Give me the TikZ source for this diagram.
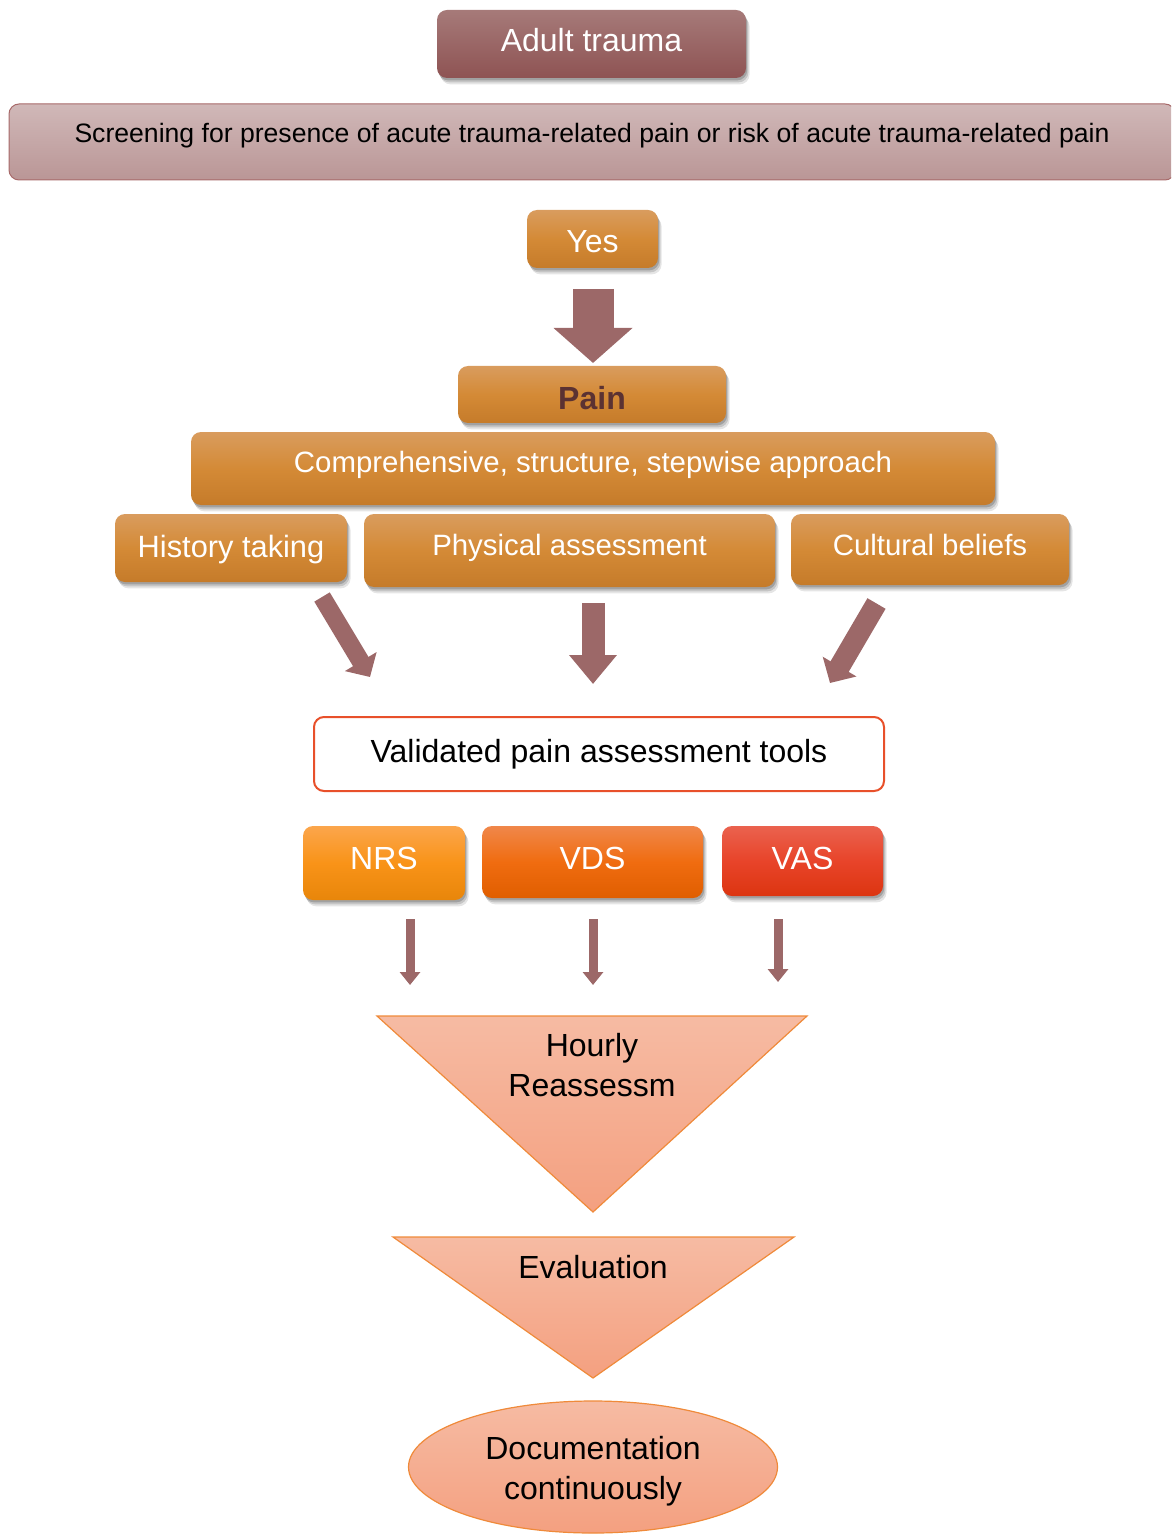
\documentclass[tikz,border=0pt]{standalone}
\usepackage{fontspec}
\setmainfont{Liberation Sans}
\usetikzlibrary{shadows,arrows.meta,shapes.geometric,calc}

\definecolor{adultTop}{HTML}{A67A79}
\definecolor{adultBot}{HTML}{8E5353}
\definecolor{scrTop}{HTML}{D0B8B8}
\definecolor{scrBot}{HTML}{BA9696}
\definecolor{scrLine}{HTML}{A86A6A}
\definecolor{orTop}{HTML}{D99C5E}
\definecolor{orMid}{HTML}{D48A36}
\definecolor{orBot}{HTML}{C57B2A}
\definecolor{arrowCol}{HTML}{9C6868}
\definecolor{painText}{HTML}{5B3232}
\definecolor{toolLine}{HTML}{E8502A}
\definecolor{nrsTop}{HTML}{FBA64C}
\definecolor{nrsMid}{HTML}{F99318}
\definecolor{nrsBot}{HTML}{E8860A}
\definecolor{vdsTop}{HTML}{F0874A}
\definecolor{vdsMid}{HTML}{F06C10}
\definecolor{vdsBot}{HTML}{E05E00}
\definecolor{vasTop}{HTML}{EA624E}
\definecolor{vasMid}{HTML}{E8442A}
\definecolor{vasBot}{HTML}{DC3510}
\definecolor{peachTop}{HTML}{F6BBA3}
\definecolor{peachBot}{HTML}{F4A080}
\definecolor{peachLine}{HTML}{EF8A3A}

\tikzset{
  basebox/.style={rounded corners=5pt, align=center, inner sep=0pt,
    text height=12pt, text depth=4pt, font=\fontsize{16}{19}\selectfont},
  % three stacked translucent copies give a soft shadow edge
  softshadow/.style={
    drop shadow={shadow xshift=0.6pt, shadow yshift=-1.2pt, opacity=0.18, fill=black},
    drop shadow={shadow xshift=1.2pt, shadow yshift=-2.2pt, opacity=0.14, fill=black},
    drop shadow={shadow xshift=1.8pt, shadow yshift=-3.2pt, opacity=0.10, fill=black}},
  orbox/.style={basebox, softshadow, top color=orTop, bottom color=orBot,
    middle color=orMid, text=white},
  midtext/.style={font=\fontsize{14.7}{18}\selectfont},
  blockarrow/.style={draw=arrowCol, color=arrowCol},
  peach/.style={draw=peachLine, line width=0.6pt, top color=peachTop,
    bottom color=peachBot},
  bodytext/.style={font=\fontsize{16}{20}\selectfont, align=center, inner sep=0pt}
}

\begin{document}
\begin{tikzpicture}[x=0.5pt,y=-0.5pt]
\useasboundingbox (0,0) rectangle (1171,1534);
\clip (0,0) rectangle (1171,1534);

% Top entries
\node[basebox, softshadow, top color=adultTop, bottom color=adultBot, text=white,
  minimum width=154.5pt, minimum height=34pt] (adult) at (591.5,44) {Adult trauma};
\node[basebox, draw=scrLine, line width=0.5pt, top color=scrTop, bottom color=scrBot,
  font=\fontsize{13.3}{16}\selectfont, text height=9.8pt, text depth=9pt,
  minimum width=583pt, minimum height=38pt] (screen) at (592,142)
  {Screening for presence of acute trauma-related pain or risk of acute trauma-related pain};

% Orange approach boxes
\node[orbox, text height=17.2pt, minimum width=65.5pt, minimum height=29pt] (yes) at (592.5,239) {Yes};
\node[orbox, text=painText, font=\fontsize{16}{19}\selectfont\bfseries, text height=18.7pt,
  minimum width=134pt, minimum height=28.5pt] (pain) at (592,394.5) {Pain};
\node[orbox, midtext, text height=11pt, text depth=6.6pt, minimum width=402pt, minimum height=36.5pt] (comp) at (593,468.5)
  {Comprehensive, structure, stepwise approach};
\node[orbox, font=\fontsize{15.4}{19}\selectfont, text height=13.8pt, minimum width=116pt, minimum height=34pt] (hist) at (231,548) {History taking};
\node[orbox, midtext, text height=11pt, text depth=5.6pt, minimum width=205.5pt, minimum height=36.5pt] (phys) at (569.5,550.5) {Physical assessment};
\node[orbox, midtext, text height=11pt, text depth=5.2pt, minimum width=139pt, minimum height=35.5pt] (cult) at (930,549.5) {Cultural beliefs};

% Block arrows
\coordinate (yesA) at (593,289);   \coordinate (yesB) at (593,363);
\draw[blockarrow, line width=20.5pt, -{Triangle[width=38.5pt,length=17.5pt]}] (yesA) -- (yesB);
\coordinate (histA) at (322,597);  \coordinate (histB) at (370,677);
\draw[blockarrow, line width=9pt, -{Triangle[width=18pt,length=9pt]}] (histA) -- (histB);
\coordinate (physA) at (593,603);  \coordinate (physB) at (593,684);
\draw[blockarrow, line width=11.5pt, -{Triangle[width=23pt,length=14.5pt]}] (physA) -- (physB);
\coordinate (cultA) at (876.5,603.5); \coordinate (cultB) at (830,683);
\draw[blockarrow, line width=10.5pt, -{Triangle[width=19pt,length=9.5pt]}] (cultA) -- (cultB);

% Assessment tools
\node[basebox, draw=toolLine, line width=1pt, fill=white,
  minimum width=285pt, minimum height=37pt] (tools) at (599,754) {Validated pain assessment tools};
\node[basebox, softshadow, top color=nrsTop, bottom color=nrsBot, middle color=nrsMid, text=white,
  text depth=5.8pt, minimum width=81pt, minimum height=37pt] (nrs) at (384,863) {NRS};
\node[basebox, softshadow, top color=vdsTop, bottom color=vdsBot, middle color=vdsMid, text=white,
  text depth=4.8pt, minimum width=110.5pt, minimum height=36pt] (vds) at (592.5,862) {VDS};
\node[basebox, softshadow, top color=vasTop, bottom color=vasBot, middle color=vasMid, text=white,
  minimum width=80.5pt, minimum height=35pt] (vas) at (802.5,861) {VAS};

% Small arrows
\coordinate (nrsA) at (410,919); \coordinate (nrsB) at (410,985);
\coordinate (vdsA) at (593,919); \coordinate (vdsB) at (593,985);
\coordinate (vasA) at (778,919); \coordinate (vasB) at (778,982);
\foreach \s/\e in {nrsA/nrsB, vdsA/vdsB, vasA/vasB}
  \draw[blockarrow, line width=4.5pt, -{Triangle[width=10pt,length=6.5pt]}] (\s) -- (\e);

% Funnel triangles
\coordinate (triAl) at (377,1016); \coordinate (triAr) at (807,1016); \coordinate (triAb) at (593,1212);
\path[peach] (triAl) -- (triAr) -- (triAb) -- cycle;
\node[bodytext] (hourly) at (592,1065) {Hourly\\Reassessm};
\coordinate (triBl) at (393,1237); \coordinate (triBr) at (794,1237); \coordinate (triBb) at (593,1378);
\path[peach] (triBl) -- (triBr) -- (triBb) -- cycle;
\node[bodytext] (eval) at (593,1267) {Evaluation};

% Final ellipse
\node[ellipse, peach, minimum width=184.5pt, minimum height=66pt] (doc) at (593,1467) {};
\node[bodytext] (docText) at (593,1471) {Documentation\\continuously};
\end{tikzpicture}
\end{document}
